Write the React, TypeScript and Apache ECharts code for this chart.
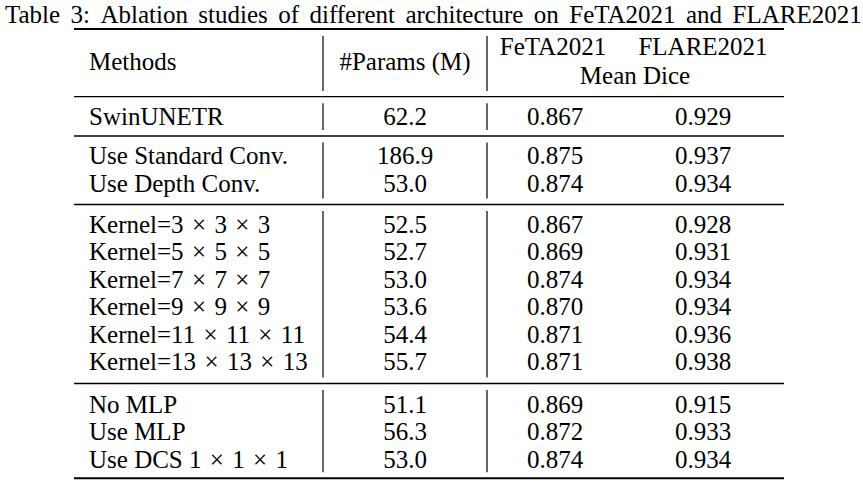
import React, { useEffect, useRef } from "react";
import * as echarts from "echarts";

const title = "Table 3: Ablation studies of different architecture on FeTA2021 and FLARE2021";
const headers = ["Methods", "#Params (M)", "FeTA2021", "FLARE2021", "Mean Dice"];
const methods = [
  "SwinUNETR",
  "Use Standard Conv.",
  "Use Depth Conv.",
  "Kernel=3 × 3 × 3",
  "Kernel=5 × 5 × 5",
  "Kernel=7 × 7 × 7",
  "Kernel=9 × 9 × 9",
  "Kernel=11 × 11 × 11",
  "Kernel=13 × 13 × 13",
  "No MLP",
  "Use MLP",
  "Use DCS 1 × 1 × 1",
];
const params = ["62.2", "186.9", "53.0", "52.5", "52.7", "53.0", "53.6", "54.4", "55.7", "51.1", "56.3", "53.0"];
const feta = ["0.867", "0.875", "0.874", "0.867", "0.869", "0.874", "0.870", "0.871", "0.871", "0.869", "0.872", "0.874"];
const flare = ["0.929", "0.937", "0.934", "0.928", "0.931", "0.934", "0.934", "0.936", "0.938", "0.915", "0.933", "0.934"];
const groups = [1, 2, 6, 3];

export default function App() {
  const ref = useRef<HTMLDivElement>(null);
  useEffect(() => {
    document.body.style.margin = "0";
    const chart = echarts.init(ref.current!, null, { renderer: "svg" });
    const font = "Liberation Serif";
    const fs = 25;
    const color = "#000";
    const els: any[] = [];
    const txt = (x: number, y: number, s: string, align = "center", size = fs) =>
      els.push({
        type: "text",
        x,
        y,
        style: { text: s, fill: color, font: `${size}px "${font}"`, textAlign: align, textVerticalAlign: "middle" },
      });
    const hline = (y: number, w: number) =>
      els.push({ type: "line", shape: { x1: 74, y1: y, x2: 784, y2: y }, style: { stroke: "#000", lineWidth: w } });
    const vline = (y1: number, y2: number) => {
      [323, 487].forEach((x) =>
        els.push({ type: "line", shape: { x1: x, y1, x2: x, y2 }, style: { stroke: "#000", lineWidth: 1.2 } })
      );
    };
    const xM = 89, xP = 405, xF = 555, xL = 703;
    // title with slightly wider inter-word spacing (LaTeX-like justification)
    txt(5, 14, title.split(" ").join(" \u2006"), "left", 25);
    hline(29, 2);
    txt(xM, 61, headers[0], "left");
    txt(xP, 61, headers[1]);
    txt(553, 46, headers[2]);
    txt(703, 46, headers[3]);
    txt(635, 75, headers[4]);
    const lines = [96.7, 136, 204.5, 383.5, 478.3];
    const starts = [116, 155.7, 224, 404];
    vline(36, 91);
    hline(lines[0], 1.3);
    const rowH = 27.5;
    let idx = 0;
    groups.forEach((n, gi) => {
      const y = starts[gi];
      for (let i = 0; i < n; i++) {
        const r = idx + i;
        const ry = y + i * rowH;
        txt(xM, ry, methods[r].split(" × ").join(" \u200A×\u200A "), "left");
        txt(xP, ry, params[r]);
        txt(xF, ry, feta[r]);
        txt(xL, ry, flare[r]);
      }
      idx += n;
      vline(lines[gi] + 6.5, lines[gi + 1] - 6);
      hline(lines[gi + 1], gi === groups.length - 1 ? 2 : 1.3);
    });
    chart.setOption({ animation: false, backgroundColor: "#fff", graphic: { elements: els } });
    return () => chart.dispose();
  }, []);
  return <div ref={ref} style={{ width: 863, height: 483 }} />;
}
